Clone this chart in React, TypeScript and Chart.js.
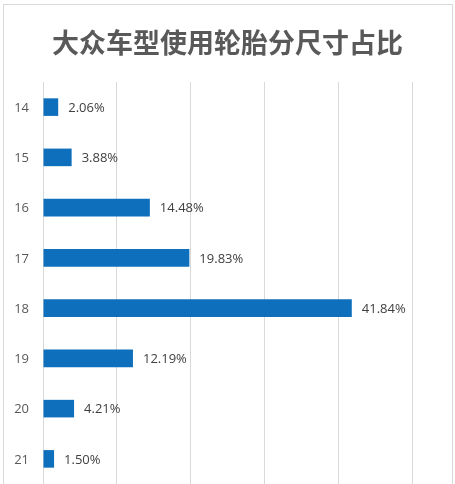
import React, { useEffect, useRef } from "react";
import { Chart, registerables, Plugin } from "chart.js";

Chart.register(...registerables);

const title = "大众车型使用轮胎分尺寸占比";
const sizes = ["14", "15", "16", "17", "18", "19", "20", "21"];
const shares = [2.06, 3.88, 14.48, 19.83, 41.84, 12.19, 4.21, 1.5];
const axisTicks = [0, 10, 20, 30, 40, 50];

const GRID = "#d9d9d9";
const BAR = "#0e6fbd";

// frame + title drawn straight onto the canvas
const framePlugin: Plugin<"bar"> = {
  id: "frame",
  beforeDraw(chart) {
    const { ctx } = chart;
    ctx.save();
    ctx.fillStyle = "#ffffff";
    ctx.fillRect(0, 0, chart.width, chart.height);
    ctx.strokeStyle = GRID;
    ctx.lineWidth = 1;
    ctx.strokeRect(3.5, 4.5, 449, 600);
    ctx.fillStyle = "#595959";
    ctx.font = "bold 27px 'Noto Sans CJK SC'";
    ctx.textAlign = "center";
    ctx.textBaseline = "middle";
    ctx.fillText(title, 227.5, 43);
    ctx.restore();
  },
};

// category labels on the left; the built-in ones add padding at the bottom
const sizeLabels: Plugin<"bar"> = {
  id: "sizeLabels",
  afterDraw(chart) {
    const { ctx } = chart;
    const y = chart.scales.y;
    ctx.save();
    ctx.fillStyle = "#595959";
    ctx.font = "13px 'Open Sans'";
    ctx.textAlign = "right";
    ctx.textBaseline = "middle";
    sizes.forEach((s, i) => {
      ctx.fillText(s, y.right - 14, y.getPixelForTick(i) + 1);
    });
    ctx.restore();
  },
};

const valueLabels: Plugin<"bar"> = {
  id: "valueLabels",
  afterDatasetsDraw(chart) {
    const { ctx } = chart;
    const meta = chart.getDatasetMeta(0);
    ctx.save();
    ctx.fillStyle = "#404040";
    ctx.font = "13px 'Open Sans'";
    ctx.textAlign = "left";
    ctx.textBaseline = "middle";
    meta.data.forEach((bar, i) => {
      ctx.fillText(shares[i].toFixed(2) + "%", bar.x + 10, bar.y + 1);
    });
    ctx.restore();
  },
};

export default function App() {
  const chartRef = useRef<HTMLCanvasElement | null>(null);

  useEffect(() => {
    if (!chartRef.current) {
      return;
    }
    const chartInstance = new Chart(chartRef.current, {
      type: "bar",
      data: {
        labels: sizes,
        datasets: [
          {
            data: shares,
            backgroundColor: BAR,
            barPercentage: 0.7,
            categoryPercentage: 0.5,
          },
        ],
      },
      options: {
        indexAxis: "y",
        animation: false,
        responsive: false,
        maintainAspectRatio: false,
        layout: { padding: { top: 82, right: 43, bottom: 0, left: 0 } },
        plugins: {
          legend: { display: false },
          tooltip: { enabled: false },
          title: { display: false },
        },
        scales: {
          x: {
            min: axisTicks[0],
            max: axisTicks[axisTicks.length - 1],
            afterBuildTicks: (scale) => {
              scale.ticks = axisTicks.map((v) => ({ value: v }));
            },
            afterFit: (scale) => {
              scale.height = 0;
            },
            ticks: { display: false },
            grid: { color: GRID, drawTicks: false },
            border: { display: false },
          },
          y: {
            afterFit: (scale) => {
              scale.width = 43;
            },
            ticks: { display: false },
            grid: { display: false, drawTicks: false },
            border: { display: true, color: GRID },
          },
        },
      },
      plugins: [framePlugin, valueLabels, sizeLabels],
    });
    return () => {
      chartInstance.destroy();
    };
  }, [chartRef]);

  return (
    <div style={{ position: "fixed", left: 0, top: 0, width: 455, height: 484, background: "#fff" }}>
      <canvas ref={chartRef} width={455} height={484} style={{ width: 455, height: 484 }}></canvas>
    </div>
  );
}
